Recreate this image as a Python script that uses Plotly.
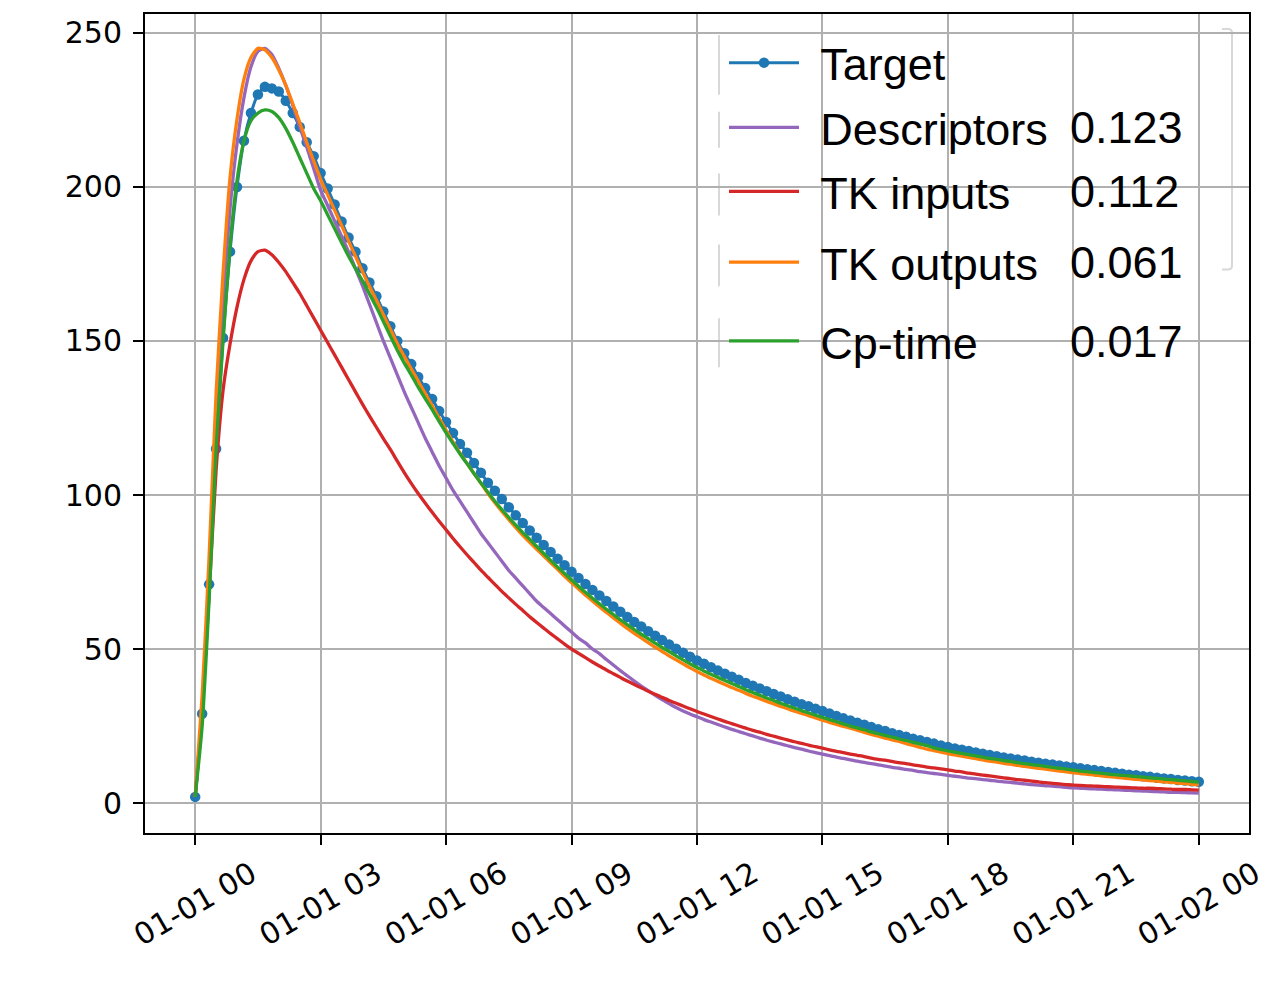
import pandas as pd
import plotly.graph_objects as go

# ---------------- data (10-minute samples, one row per hour) ----------------
start_time = pd.Timestamp("2000-01-01 00:00")
times = pd.date_range(start_time, periods=145, freq="10min")

target = [
    2, 29, 71, 115, 151, 179,
    200, 215, 224, 230, 232.5, 232,
    231, 228, 224, 219.5, 214.5, 210,
    204.5, 199.5, 194.3, 188.8, 183.6, 179,
    173.6, 169, 164.5, 159.6, 154.8, 150,
    146, 142.5, 138.3, 134.7, 131.2, 127.3,
    123.7, 120.1, 116.6, 113.7, 110.4, 107.2,
    104, 101.4, 98.7, 96.0, 93.4, 90.9,
    88.5, 86.1, 83.8, 81.5, 79.3, 77.2,
    75.1, 73.1, 71.1, 69.2, 67.4, 65.6,
    63.8, 62.1, 60.4, 58.8, 57.3, 55.8,
    54.3, 52.9, 51.5, 50.1, 48.8, 47.5,
    46.3, 45.2, 44.1, 43.0, 42.0, 41.0,
    40.0, 39.0, 38.1, 37.2, 36.3, 35.4,
    34.6, 33.7, 32.9, 32.1, 31.4, 30.6,
    29.9, 29.1, 28.3, 27.5, 26.8, 26.1,
    25.4, 24.7, 24.0, 23.4, 22.7, 22.1,
    21.5, 20.9, 20.4, 19.8, 19.3, 18.7,
    18.2, 17.7, 17.3, 16.9, 16.4, 16.0,
    15.6, 15.2, 14.8, 14.5, 14.1, 13.8,
    13.4, 13.1, 12.8, 12.5, 12.2, 11.9,
    11.6, 11.3, 11.0, 10.7, 10.4, 10.1,
    9.8, 9.5, 9.2, 9.0, 8.7, 8.5,
    8.2, 8.0, 7.8, 7.5, 7.3, 7.1,
    6.9,
]

descriptors = [
    2, 30, 72, 125, 163, 193,
    214, 229, 239, 244, 245, 243,
    238.5, 233, 226.5, 219.5, 213, 206,
    199, 194, 189, 184, 179, 173.5,
    168, 162, 156, 150, 144.5, 139,
    133.5, 128.5, 123.5, 118.5, 114, 109.5,
    105.5, 101.5, 98, 94.5, 91, 87.5,
    84.5, 81.5, 78.5, 75.5, 73, 70.5,
    68, 65.5, 63.5, 61.5, 59.5, 57.5,
    55.5, 53.5, 52, 50, 48.5, 46.6,
    44.8, 43.0, 41.3, 39.6, 38.0, 36.5,
    35.0, 33.6, 32.3, 31.0, 29.9, 28.9,
    28.0, 27.1, 26.3, 25.5, 24.7, 23.9,
    23.2, 22.5, 21.8, 21.1, 20.4, 19.8,
    19.2, 18.6, 18.0, 17.5, 16.9, 16.4,
    15.9, 15.4, 14.9, 14.5, 14.0, 13.6,
    13.2, 12.8, 12.4, 12.0, 11.6, 11.3,
    10.9, 10.6, 10.2, 9.9, 9.6, 9.3,
    9.0, 8.7, 8.4, 8.1, 7.9, 7.6,
    7.4, 7.1, 6.9, 6.7, 6.5, 6.2,
    6.0, 5.8, 5.6, 5.5, 5.3, 5.1,
    4.9, 4.8, 4.7, 4.6, 4.5, 4.4,
    4.3, 4.2, 4.1, 4.0, 3.9, 3.8,
    3.7, 3.6, 3.5, 3.5, 3.4, 3.3,
    3.2,
]

tk_inputs = [
    2, 30, 68, 108, 134, 149,
    161, 170, 176, 179, 179.5, 178,
    175.5, 172.5, 169, 165.5, 161.5, 157.5,
    153.5, 149.5, 145.5, 141.5, 137.5, 133.5,
    129.5, 125.7, 122, 118.3, 114.8, 111,
    107.3, 103.8, 100.5, 97.4, 94.4, 91.5,
    88.7, 85.9, 83.2, 80.6, 78.1, 75.6,
    73.3, 71.0, 68.7, 66.6, 64.5, 62.5,
    60.5, 58.6, 56.8, 55.0, 53.3, 51.6,
    50.0, 48.6, 47.2, 45.8, 44.5, 43.2,
    42.0, 40.8, 39.6, 38.5, 37.4, 36.3,
    35.3, 34.3, 33.3, 32.4, 31.5, 30.6,
    29.7, 28.9, 28.1, 27.3, 26.5, 25.8,
    25.0, 24.3, 23.6, 23.0, 22.3, 21.7,
    21.1, 20.5, 19.9, 19.4, 18.8, 18.3,
    17.8, 17.3, 16.8, 16.4, 15.9, 15.5,
    15.1, 14.6, 14.2, 13.9, 13.5, 13.1,
    12.8, 12.4, 12.1, 11.7, 11.4, 11.1,
    10.8, 10.4, 10.1, 9.7, 9.4, 9.1,
    8.8, 8.5, 8.2, 7.9, 7.6, 7.4,
    7.1, 6.9, 6.6, 6.4, 6.2, 6.0,
    5.8, 5.7, 5.6, 5.5, 5.4, 5.3,
    5.2, 5.1, 5.0, 4.9, 4.8, 4.8,
    4.7, 4.6, 4.5, 4.4, 4.4, 4.3,
    4.2,
]

tk_outputs = [
    2, 35, 80, 133, 172, 203,
    222, 235, 242, 245, 244.5, 242,
    238, 233, 227, 221, 214.5, 208.5,
    202.5, 197.5, 192.5, 187.5, 182.5, 177.5,
    172.5, 167.8, 163.2, 158.5, 153.8, 149.2,
    145.0, 141.0, 137.0, 133.0, 129.0, 125.0,
    121.0, 117.2, 113.6, 110.3, 107.0, 103.8,
    100.5, 97.5, 94.7, 92.0, 89.4, 86.9,
    84.6, 82.4, 80.2, 78.0, 75.9, 73.6,
    71.5, 69.5, 67.5, 65.6, 63.7, 61.9,
    60.1, 58.4, 56.7, 55.1, 53.6, 52.1,
    50.6, 49.2, 47.8, 46.5, 45.2, 43.9,
    42.7, 41.6, 40.5, 39.5, 38.5, 37.5,
    36.6, 35.6, 34.7, 33.9, 33.0, 32.2,
    31.4, 30.6, 29.8, 29.1, 28.4, 27.6,
    26.9, 26.2, 25.5, 24.9, 24.3, 23.7,
    22.9, 22.3, 21.7, 21.1, 20.5, 20.0,
    19.3, 18.7, 18.1, 17.5, 17.0, 16.5,
    16.0, 15.6, 15.2, 14.8, 14.4, 14.0,
    13.6, 13.3, 12.9, 12.6, 12.2, 11.9,
    11.6, 11.3, 11.0, 10.7, 10.4, 10.1,
    9.8, 9.6, 9.3, 9.1, 8.8, 8.6,
    8.4, 8.2, 7.9, 7.7, 7.5, 7.3,
    7.1, 6.9, 6.7, 6.5, 6.3, 6.1,
    5.9,
]

cp_time = [
    2, 25, 66, 115, 150, 181,
    202, 215, 221.5, 224, 225, 224.5,
    222.5, 219, 214.5, 209.5, 204.5, 199.5,
    195.5, 191, 186.5, 182, 177.5, 173.5,
    169.5, 165.3, 161.0, 156.3, 151.6, 147.0,
    142.8, 139.0, 135.0, 131.3, 127.7, 123.9,
    120.2, 116.7, 113.3, 110.2, 107.0, 103.9,
    100.9, 98.0, 95.3, 92.7, 90.2, 87.8,
    85.6, 83.3, 81.0, 78.8, 76.6, 74.5,
    72.4, 70.4, 68.4, 66.5, 64.7, 62.9,
    61.2, 59.5, 57.9, 56.3, 54.8, 53.4,
    51.9, 50.5, 49.2, 47.8, 46.5, 45.2,
    44.0, 42.9, 41.8, 40.8, 39.8, 38.8,
    37.8, 36.8, 35.9, 35.0, 34.1, 33.3,
    32.4, 31.6, 30.8, 30.0, 29.3, 28.5,
    27.8, 27.1, 26.4, 25.7, 25.0, 24.4,
    23.8, 23.1, 22.5, 22.0, 21.4, 20.8,
    20.3, 19.7, 19.2, 18.7, 17.9, 17.4,
    16.9, 16.5, 16.1, 15.7, 15.3, 14.9,
    14.5, 14.2, 13.8, 13.5, 13.1, 12.8,
    12.5, 12.2, 11.9, 11.6, 11.3, 11.0,
    10.7, 10.4, 10.2, 9.9, 9.7, 9.4,
    9.2, 9.0, 8.8, 8.6, 8.4, 8.2,
    8.0, 7.8, 7.6, 7.4, 7.2, 7.0,
    6.8,
]

series_names = ["Target", "Descriptors", "TK inputs", "TK outputs", "Cp-time"]
series_scores = ["", "0.123", "0.112", "0.061", "0.017"]
series_colors = ["#1f77b4", "#9467bd", "#d62728", "#ff7f0e", "#2ca02c"]
y_ticks = [0, 50, 100, 150, 200, 250]

for arr in (target, descriptors, tk_inputs, tk_outputs, cp_time):
    assert len(arr) == len(times), len(arr)

# ---------------- geometry (page pixels; page body has an 8px margin) ----------------
OFF = 8
W, H = 1279 - OFF, 1004 - OFF
L, R, T, B = 145, 1249, 12, 833


def px(x):
    return (x - L) / (R - L)


def py(y):
    return (B - y) / (B - T)


fig = go.Figure()

all_values = [target, descriptors, tk_inputs, tk_outputs, cp_time]
legend_ids = ["legend", "legend2", "legend3", "legend4", "legend5"]
row_y = [61, 126, 190, 261, 340]

for i, (name, vals, col) in enumerate(zip(series_names, all_values, series_colors)):
    label = "\u00a0\u200a" + name
    if i == 0:
        fig.add_trace(go.Scatter(
            x=times, y=vals, name=label, mode="lines+markers",
            line=dict(color=col, width=3, shape="spline", smoothing=0.6),
            marker=dict(color=col, size=10.5),
            legend=legend_ids[i],
        ))
    else:
        fig.add_trace(go.Scatter(
            x=times, y=vals, name=label, mode="lines",
            line=dict(color=col, width=3.3, shape="spline", smoothing=0.6),
            legend=legend_ids[i],
        ))

legend_font = dict(family="Liberation Sans, Arial, sans-serif", size=45, color="black")
layout_legends = {}
for i, lid in enumerate(legend_ids):
    layout_legends[lid] = dict(
        x=px(724), y=py(row_y[i]), xanchor="left", yanchor="middle",
        bgcolor="rgba(0,0,0,0)", borderwidth=0, font=legend_font,
        itemwidth=70, tracegroupgap=0,
    )

annotations = []
for i, sc in enumerate(series_scores):
    if sc:
        annotations.append(dict(
            x=px(1068), y=py(row_y[i]), xref="paper", yref="paper",
            xanchor="left", yanchor="middle", text=sc, showarrow=False,
            font=legend_font,
        ))

shapes = [
    # white legend background covering the grid
    dict(type="rect", xref="paper", yref="paper", x0=px(700), x1=px(1222),
         y0=py(390), y1=py(22), fillcolor="white", line=dict(width=0), layer="between"),
    # faint frame remnants
    dict(type="path", xref="paper", yref="paper", layer="between",
         path=f"M {px(1222)} {py(27)} L {px(1228)} {py(27)} Q {px(1232)} {py(27)} {px(1232)} {py(31)} "
              f"L {px(1232)} {py(264)} Q {px(1232)} {py(268)} {px(1228)} {py(268)} L {px(1222)} {py(268)}",
         line=dict(color="#d8d8d8", width=2)),
]
for (ya, yb) in [(33, 93), (110, 146), (172, 214), (243, 285), (317, 366)]:
    shapes.append(dict(type="line", xref="paper", yref="paper", layer="between",
                       x0=px(719), x1=px(719), y0=py(ya), y1=py(yb),
                       line=dict(color="#d8d8d8", width=2)))

tick_font = dict(family="DejaVu Sans, sans-serif", size=30, color="black")

x_lo = start_time - pd.Timedelta(hours=1.2)
x_hi = times[-1] + pd.Timedelta(hours=1.2)

fig.update_layout(
    width=W, height=H,
    margin=dict(l=L - OFF, r=W - (R - OFF), t=T - OFF, b=H - (B - OFF), pad=0),
    paper_bgcolor="white", plot_bgcolor="white",
    showlegend=True,
    annotations=annotations,
    shapes=shapes,
    **layout_legends,
)

fig.update_xaxes(
    type="date", range=[x_lo, x_hi],
    tick0=start_time, dtick=3 * 3600 * 1000, tickformat="%m-%d %H",
    tickangle=-30, tickfont=tick_font,
    ticks="outside", ticklen=10, tickwidth=2, tickcolor="black",
    ticklabelshift=56, ticklabelstandoff=0,
    showgrid=True, gridcolor="#b0b0b0", gridwidth=2,
    showline=True, linecolor="black", linewidth=2, mirror=True,
    zeroline=False,
)
fig.update_yaxes(
    range=[-9.72, 256.15], tickvals=y_ticks, tickfont=tick_font,
    ticks="outside", ticklen=10, tickwidth=2, tickcolor="black",
    ticklabelstandoff=5,
    showgrid=True, gridcolor="#b0b0b0", gridwidth=2,
    showline=True, linecolor="black", linewidth=2, mirror=True,
    zeroline=False,
)

fig.write_html("out.html")
